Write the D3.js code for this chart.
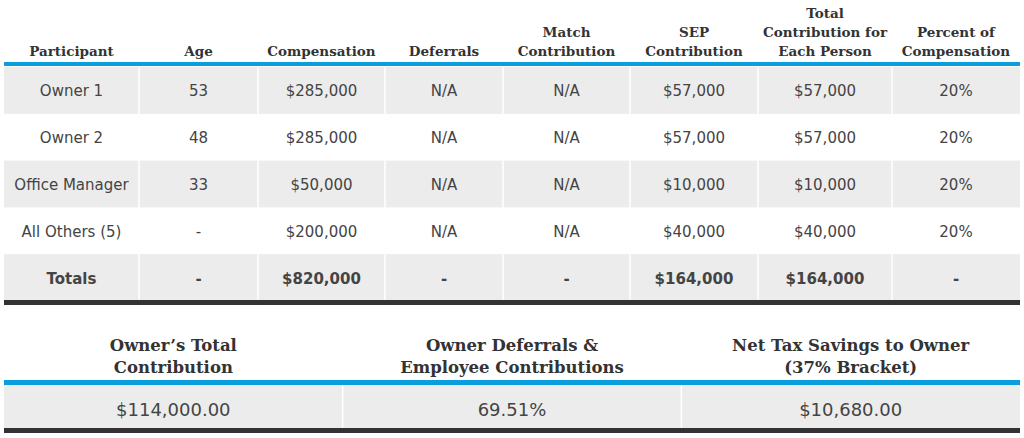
<!DOCTYPE html>
<html>
<head>
<meta charset="utf-8">
<script src="https://cdn.jsdelivr.net/npm/d3@7"></script>
<style>
  body { margin: 0; background: #fff; }
  svg { display: block; }
  .hdr { font-family: "DejaVu Serif", serif; font-weight: bold; fill: #333; }
  .cell { font-family: "DejaVu Sans", sans-serif; fill: #444; }
</style>
</head>
<body>
<div id="chart"></div>
<script>
// header labels, one entry per line
var headers = [
  ["Participant"],
  ["Age"],
  ["Compensation"],
  ["Deferrals"],
  ["Match", "Contribution"],
  ["SEP", "Contribution"],
  ["Total", "Contribution for", "Each Person"],
  ["Percent of", "Compensation"]
];

var participants = ["Owner 1", "Owner 2", "Office Manager", "All Others (5)", "Totals"];
var ages         = ["53", "48", "33", "-", "-"];
var compensation = ["$285,000", "$285,000", "$50,000", "$200,000", "$820,000"];
var deferrals    = ["N/A", "N/A", "N/A", "N/A", "-"];
var match        = ["N/A", "N/A", "N/A", "N/A", "-"];
var sep          = ["$57,000", "$57,000", "$10,000", "$40,000", "$164,000"];
var totalContrib = ["$57,000", "$57,000", "$10,000", "$40,000", "$164,000"];
var percentComp  = ["20%", "20%", "20%", "20%", "-"];

var summaryHeaders = [
  ["Owner\u2019s Total", "Contribution"],
  ["Owner Deferrals &", "Employee Contributions"],
  ["Net Tax Savings to Owner", "(37% Bracket)"]
];
var summaryValues = ["$114,000.00", "69.51%", "$10,680.00"];

var W = 1024, H = 438;
var left = 4, right = 1020;
var blue = "#0a9fdc", dark = "#333333", grey = "#ececec";

var svg = d3.select("#chart").append("svg").attr("width", W).attr("height", H);

// column widths of the main table
var colW = [135, 119, 127, 118, 127, 128, 134, 128];
var colEdges = [left];
colW.forEach(function (w) { colEdges.push(colEdges[colEdges.length - 1] + w); });

var columns = [participants, ages, compensation, deferrals, match, sep, totalContrib, percentComp];

var y = d3.scaleBand().domain(d3.range(participants.length)).range([67, 301]).paddingInner(0);

// header text
headers.forEach(function (lines, i) {
  var cx = (colEdges[i] + colEdges[i + 1]) / 2;
  lines.forEach(function (line, j) {
    svg.append("text").attr("class", "hdr")
      .attr("x", cx)
      .attr("y", 56 - (lines.length - 1 - j) * 19)
      .attr("text-anchor", "middle")
      .attr("font-size", 13.5)
      .text(line);
  });
});

// rows
var rows = svg.append("g");
participants.forEach(function (p, r) {
  var g = rows.append("g");
  if (r % 2 === 0) {
    g.append("rect").attr("x", left).attr("y", y(r)).attr("width", right - left)
      .attr("height", y.bandwidth()).attr("fill", grey);
  }
  colEdges.slice(1, -1).forEach(function (ex) {
    g.append("line").attr("x1", ex).attr("x2", ex).attr("y1", y(r)).attr("y2", y(r) + y.bandwidth())
      .attr("stroke", "#fff").attr("stroke-width", 1.5);
  });
  var last = r === participants.length - 1;
  columns.forEach(function (col, c) {
    g.append("text").attr("class", "cell")
      .attr("x", (colEdges[c] + colEdges[c + 1]) / 2)
      .attr("y", y(r) + y.bandwidth() / 2 + 6)
      .attr("text-anchor", "middle")
      .attr("font-size", 15)
      .attr("font-weight", last ? "bold" : "normal")
      .attr("fill", last ? "#333" : "#444")
      .text(col[r]);
  });
});

svg.append("rect").attr("x", left).attr("y", 62).attr("width", right - left).attr("height", 4).attr("fill", blue);
svg.append("rect").attr("x", left).attr("y", 300).attr("width", right - left).attr("height", 5).attr("fill", dark);

// summary table
var sx = d3.scaleBand().domain(d3.range(summaryValues.length)).range([left, right]);

summaryHeaders.forEach(function (lines, i) {
  lines.forEach(function (line, j) {
    svg.append("text").attr("class", "hdr")
      .attr("x", sx(i) + sx.bandwidth() / 2)
      .attr("y", 373 - (lines.length - 1 - j) * 22)
      .attr("text-anchor", "middle")
      .attr("font-size", 16.5)
      .text(line);
  });
});

svg.append("rect").attr("x", left).attr("y", 385).attr("width", right - left).attr("height", 43).attr("fill", grey);
summaryValues.forEach(function (v, i) {
  if (i > 0) {
    svg.append("line").attr("x1", sx(i)).attr("x2", sx(i)).attr("y1", 385).attr("y2", 428)
      .attr("stroke", "#fff").attr("stroke-width", 1.5);
  }
  svg.append("text").attr("class", "cell")
    .attr("x", sx(i) + sx.bandwidth() / 2)
    .attr("y", 416)
    .attr("text-anchor", "middle")
    .attr("font-size", 18)
    .attr("fill", "#333")
    .text(v);
});
svg.append("rect").attr("x", left).attr("y", 380).attr("width", right - left).attr("height", 5).attr("fill", blue);
svg.append("rect").attr("x", left).attr("y", 428).attr("width", right - left).attr("height", 5).attr("fill", dark);
</script>
</body>
</html>
